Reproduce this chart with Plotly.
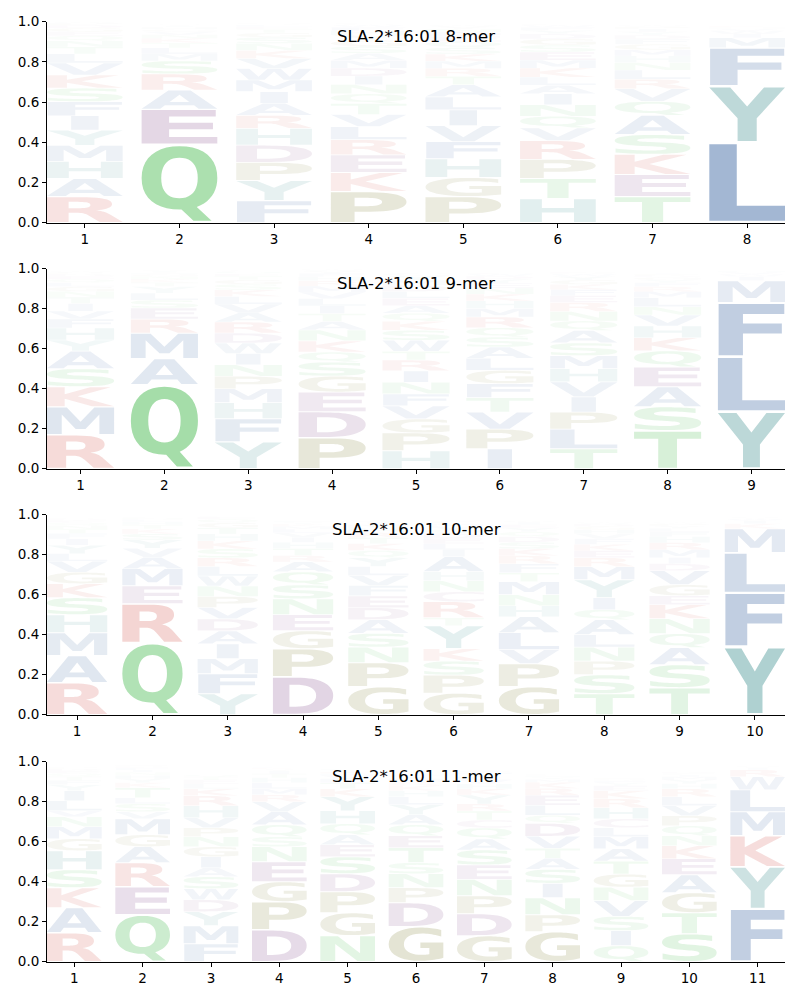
import glob, os, struct
import plotly.graph_objects as go

ALLELE = "SLA-2*16:01"
LENGTHS = [8, 9, 10, 11]

# letter probabilities per position, listed bottom -> top of each stack
mer8 = [
    {"R": .13, "A": .09, "H": .085, "M": .08, "Y": .075, "I": .072, "F": .07, "S": .068, "K": .065, "V": .06,
     "L": .045, "T": .035, "N": .03, "Q": .025, "E": .02, "G": .018, "D": .015, "P": .01, "W": .008, "C": .002},
    {"Q": .39, "E": .175, "A": .095, "R": .08, "S": .065, "M": .035, "L": .03, "T": .025, "K": .022, "N": .018,
     "V": .015, "G": .012, "H": .01, "I": .008, "Y": .006, "F": .005, "D": .004},
    {"F": .11, "Y": .10, "P": .09, "D": .086, "H": .083, "R": .065, "A": .06, "I": .058, "M": .058, "W": .057,
     "V": .05, "K": .04, "N": .035, "S": .03, "G": .022, "T": .018, "E": .013, "L": .01, "Q": .008, "C": .005},
    {"P": .155, "K": .095, "E": .088, "R": .075, "L": .065, "V": .06, "T": .055, "Q": .048, "N": .046, "I": .042,
     "D": .04, "M": .038, "A": .036, "S": .034, "G": .03, "Y": .026, "H": .022, "F": .018, "W": .012, "C": .008},
    {"P": .13, "G": .095, "H": .093, "F": .085, "V": .08, "I": .078, "L": .065, "A": .06, "T": .042, "R": .04,
     "M": .036, "K": .035, "S": .032, "Q": .03, "E": .026, "D": .022, "N": .015, "Y": .012, "W": .008, "C": .004},
    {"H": .12, "T": .10, "P": .095, "R": .094, "V": .063, "Q": .058, "N": .057, "I": .055, "A": .042, "L": .04,
     "K": .045, "M": .04, "E": .04, "S": .035, "G": .03, "D": .025, "Y": .018, "F": .015, "W": .01, "C": .006},
    {"T": .13, "E": .11, "K": .10, "S": .099, "A": .095, "Q": .07, "V": .063, "R": .047, "L": .045, "N": .038,
     "H": .033, "M": .03, "G": .028, "F": .025, "D": .02, "Y": .017, "I": .014, "P": .011, "W": .008, "C": .005},
    {"L": .40, "Y": .28, "F": .19, "M": .05, "I": .02, "W": .015, "V": .01, "H": .008, "K": .006, "C": .004},
]

mer9 = [
    {"R": .17, "M": .14, "K": .10, "S": .09, "A": .088, "Y": .055, "H": .06, "F": .045, "V": .04, "I": .038,
     "T": .032, "N": .028, "G": .024, "L": .02, "Q": .018, "E": .014, "D": .011, "P": .008, "W": .006, "C": .004},
    {"Q": .42, "A": .13, "M": .128, "R": .07, "E": .055, "S": .04, "L": .035, "Y": .033, "T": .02, "K": .016,
     "N": .014, "G": .01, "H": .009, "I": .008, "V": .006, "F": .004},
    {"Y": .135, "F": .115, "H": .08, "M": .07, "P": .062, "N": .058, "I": .056, "W": .052, "D": .05, "R": .055,
     "A": .046, "V": .044, "L": .038, "K": .033, "S": .028, "G": .022, "T": .018, "E": .013, "Q": .01, "C": .006},
    {"P": .155, "D": .13, "E": .098, "G": .08, "S": .07, "Q": .05, "K": .056, "N": .055, "A": .042, "T": .04,
     "I": .038, "L": .036, "V": .033, "M": .03, "R": .026, "H": .021, "F": .016, "Y": .012, "W": .008, "C": .005},
    {"H": .09, "P": .089, "G": .07, "V": .065, "F": .06, "N": .058, "I": .057, "R": .054, "T": .044, "W": .055,
     "S": .05, "K": .045, "Q": .04, "A": .038, "E": .037, "L": .034, "D": .03, "M": .027, "Y": .022, "C": .013},
    {"I": .10, "P": .098, "V": .085, "T": .072, "F": .07, "G": .067, "L": .06, "A": .056, "S": .05, "Q": .047,
     "R": .054, "M": .042, "H": .038, "K": .034, "N": .03, "E": .025, "Y": .02, "D": .015, "W": .01, "C": .006},
    {"T": .10, "L": .098, "P": .085, "I": .076, "V": .075, "H": .066, "M": .065, "S": .064, "A": .062, "Q": .048,
     "N": .047, "R": .045, "E": .034, "F": .03, "K": .026, "G": .022, "Y": .018, "W": .013, "D": .009, "C": .005},
    {"T": .19, "S": .12, "A": .10, "E": .099, "Q": .08, "K": .066, "H": .058, "V": .055, "N": .042, "L": .045,
     "M": .03, "R": .025, "F": .02, "Y": .015, "G": .012, "D": .009, "P": .007, "I": .005, "W": .004, "C": .003},
    {"Y": .285, "L": .275, "F": .27, "M": .11, "I": .02, "W": .012, "V": .01, "H": .007, "K": .004, "C": .003},
]

mer10 = [
    {"R": .16, "A": .135, "M": .115, "H": .09, "S": .085, "K": .07, "G": .057, "V": .055, "L": .038, "Y": .042,
     "I": .032, "F": .027, "T": .022, "N": .018, "Q": .014, "E": .011, "D": .008, "P": .006, "W": .004, "C": .003},
    {"Q": .36, "R": .195, "E": .09, "M": .085, "A": .057, "V": .045, "Y": .042, "S": .03, "K": .025, "T": .02,
     "H": .015, "L": .012, "N": .008, "F": .006, "G": .004, "I": .003, "D": .002},
    {"Y": .105, "F": .10, "M": .075, "I": .074, "A": .065, "D": .06, "V": .057, "P": .055, "N": .052, "W": .05,
     "L": .048, "R": .043, "S": .045, "K": .04, "H": .035, "T": .03, "G": .025, "Q": .018, "E": .012, "C": .006},
    {"D": .19, "P": .14, "G": .09, "E": .08, "N": .079, "S": .07, "Q": .065, "A": .05, "R": .032, "T": .035,
     "H": .03, "I": .026, "V": .022, "L": .018, "M": .014, "K": .012, "Y": .009, "F": .007, "W": .004, "C": .003},
    {"G": .14, "P": .12, "N": .078, "S": .069, "A": .068, "D": .06, "E": .059, "F": .052, "V": .05, "L": .045,
     "Y": .044, "Q": .036, "K": .034, "T": .03, "R": .026, "H": .022, "M": .017, "I": .013, "W": .009, "C": .005},
    {"G": .108, "P": .09, "S": .07, "K": .062, "Y": .115, "T": .04, "R": .08, "C": .05, "N": .055, "H": .045,
     "A": .075, "I": .035, "L": .03, "E": .027, "D": .024, "Q": .02, "V": .016, "M": .013, "F": .01, "W": .006},
    {"G": .14, "P": .115, "V": .07, "L": .085, "A": .08, "H": .055, "N": .055, "M": .065, "T": .045, "F": .045,
     "R": .04, "K": .035, "S": .032, "D": .028, "Q": .024, "Y": .02, "E": .016, "I": .012, "W": .008, "C": .005},
    {"T": .105, "S": .095, "P": .068, "N": .07, "L": .062, "A": .075, "Q": .05, "I": .06, "Y": .09, "M": .065,
     "R": .045, "E": .035, "K": .032, "F": .028, "V": .025, "H": .02, "G": .016, "D": .012, "W": .008, "C": .005},
    {"T": .135, "S": .115, "A": .085, "Q": .07, "N": .075, "K": .07, "E": .045, "G": .055, "V": .07, "D": .035,
     "I": .03, "M": .04, "R": .035, "H": .03, "F": .025, "L": .016, "Y": .013, "P": .01, "W": .007, "C": .004},
    {"Y": .34, "F": .27, "L": .20, "M": .12, "K": .025, "I": .015, "W": .01, "V": .008, "H": .004, "C": .003},
]

mer11 = [
    {"R": .145, "A": .125, "K": .10, "S": .09, "H": .095, "G": .06, "M": .06, "N": .05, "V": .03, "L": .05,
     "I": .05, "Y": .03, "F": .022, "T": .02, "Q": .015, "E": .012, "D": .01, "P": .008, "W": .005, "C": .003},
    {"Q": .235, "E": .14, "R": .12, "A": .08, "G": .06, "M": .08, "V": .035, "S": .04, "L": .03, "T": .05,
     "K": .025, "Y": .02, "H": .018, "N": .014, "I": .012, "F": .01, "D": .008, "P": .006, "W": .004, "C": .003},
    {"F": .09, "M": .09, "Y": .07, "D": .06, "W": .055, "S": .06, "A": .045, "I": .055, "G": .05, "N": .05,
     "P": .045, "V": .05, "H": .06, "R": .05, "K": .035, "L": .025, "E": .02, "T": .015, "Q": .01, "C": .005},
    {"D": .16, "P": .14, "G": .10, "E": .10, "N": .075, "S": .05, "Q": .06, "A": .065, "V": .05, "R": .035,
     "M": .03, "L": .03, "H": .025, "T": .02, "I": .015, "Y": .008, "K": .006, "F": .005, "W": .003, "C": .002},
    {"N": .13, "G": .115, "P": .105, "D": .09, "S": .085, "E": .06, "A": .05, "Q": .055, "H": .065, "Y": .07,
     "K": .04, "T": .03, "L": .02, "V": .015, "M": .01, "R": .01, "I": .008, "F": .006, "W": .004, "C": .003},
    {"G": .175, "D": .12, "P": .075, "N": .07, "S": .055, "T": .075, "E": .06, "Q": .055, "A": .05, "Y": .05,
     "L": .04, "H": .03, "K": .025, "R": .02, "M": .015, "I": .01, "F": .008, "V": .006, "W": .004, "C": .003},
    {"G": .13, "D": .11, "P": .09, "N": .082, "E": .072, "S": .075, "A": .055, "Q": .055, "C": .04, "T": .045,
     "R": .035, "Y": .045, "K": .03, "H": .025, "V": .02, "L": .016, "I": .012, "M": .01, "F": .008, "W": .005},
    {"G": .15, "P": .085, "N": .085, "I": .072, "S": .07, "A": .055, "T": .05, "V": .06, "D": .065, "Q": .04,
     "L": .05, "E": .05, "R": .035, "K": .03, "M": .015, "Y": .01, "H": .008, "F": .006, "W": .004, "C": .003},
    {"Q": .08, "I": .075, "S": .072, "V": .078, "N": .068, "G": .065, "T": .065, "A": .062, "M": .06, "L": .045,
     "C": .045, "H": .055, "R": .045, "K": .04, "E": .025, "Y": .015, "F": .01, "D": .008, "P": .006, "W": .004},
    {"S": .14, "T": .105, "G": .10, "A": .09, "E": .08, "K": .065, "N": .05, "Q": .05, "P": .05, "V": .05,
     "L": .045, "R": .04, "H": .025, "Y": .02, "M": .015, "I": .01, "F": .008, "D": .006, "W": .004, "C": .003},
    {"F": .265, "Y": .21, "K": .155, "M": .12, "L": .11, "W": .065, "R": .035, "I": .01, "V": .008, "H": .005},
]

LOGOS = [mer8, mer9, mer10, mer11]

# base colours by residue group (alpha = probability, as in a faded probability logo)
GROUP_COLORS = {
    "AFILMVW": (25, 75, 145),
    "NQST": (40, 175, 50),
    "KR": (200, 40, 30),
    "DE": (100, 30, 110),
    "GP": (100, 100, 10),
    "HY": (20, 120, 120),
    "C": (120, 50, 120),
}
COLOR = {c: rgb for grp, rgb in GROUP_COLORS.items() for c in grp}

GLYPH_WIDTH = 0.8
VPAD = 0.05


# ---------------- minimal TrueType outline reader ----------------
class TTF:
    def __init__(self, path):
        d = open(path, "rb").read()
        self.d = d
        n = struct.unpack(">H", d[4:6])[0]
        self.t = {}
        for i in range(n):
            tag, cs, off, ln = struct.unpack(">4sIII", d[12 + 16 * i:28 + 16 * i])
            self.t[tag.decode("latin1")] = (off, ln)
        head = self.t["head"][0]
        self.locfmt = struct.unpack(">h", d[head + 50:head + 52])[0]
        maxp = self.t["maxp"][0]
        ng = struct.unpack(">H", d[maxp + 4:maxp + 6])[0]
        lo = self.t["loca"][0]
        if self.locfmt == 0:
            self.loca = [2 * v for v in struct.unpack(">%dH" % (ng + 1), d[lo:lo + 2 * (ng + 1)])]
        else:
            self.loca = list(struct.unpack(">%dI" % (ng + 1), d[lo:lo + 4 * (ng + 1)]))
        self.glyf = self.t["glyf"][0]
        self._setup_cmap()

    def _setup_cmap(self):
        d = self.d
        off = self.t["cmap"][0]
        n = struct.unpack(">H", d[off + 2:off + 4])[0]
        sub = None
        for i in range(n):
            pid, eid, so = struct.unpack(">HHI", d[off + 4 + 8 * i:off + 12 + 8 * i])
            fmt = struct.unpack(">H", d[off + so:off + so + 2])[0]
            if fmt == 4 and ((pid == 3 and eid == 1) or pid == 0):
                sub = off + so
                break
        segx2 = struct.unpack(">H", d[sub + 6:sub + 8])[0]
        seg = segx2 // 2
        self.ends = struct.unpack(">%dH" % seg, d[sub + 14:sub + 14 + segx2])
        self.starts = struct.unpack(">%dH" % seg, d[sub + 16 + segx2:sub + 16 + 2 * segx2])
        self.deltas = struct.unpack(">%dh" % seg, d[sub + 16 + 2 * segx2:sub + 16 + 3 * segx2])
        self.rpos = sub + 16 + 3 * segx2
        self.roffs = struct.unpack(">%dH" % seg, d[self.rpos:self.rpos + segx2])
        self.seg = seg

    def gid(self, ch):
        c = ord(ch)
        d = self.d
        for i in range(self.seg):
            if self.starts[i] <= c <= self.ends[i]:
                if self.roffs[i] == 0:
                    return (c + self.deltas[i]) & 0xFFFF
                a = self.rpos + 2 * i + self.roffs[i] + 2 * (c - self.starts[i])
                g = struct.unpack(">H", d[a:a + 2])[0]
                return (g + self.deltas[i]) & 0xFFFF if g else 0
        return 0

    def contours(self, g):
        d = self.d
        s = self.glyf + self.loca[g]
        e = self.glyf + self.loca[g + 1]
        if e <= s:
            return []
        nc = struct.unpack(">h", d[s:s + 2])[0]
        p = s + 10
        if nc >= 0:
            endpts = struct.unpack(">%dH" % nc, d[p:p + 2 * nc])
            p += 2 * nc
            il = struct.unpack(">H", d[p:p + 2])[0]
            p += 2 + il
            npts = endpts[-1] + 1 if nc else 0
            flags = []
            while len(flags) < npts:
                f = d[p]
                p += 1
                flags.append(f)
                if f & 8:
                    r = d[p]
                    p += 1
                    flags.extend([f] * r)
            flags = flags[:npts]
            xs, v = [], 0
            for f in flags:
                if f & 2:
                    dv = d[p]
                    p += 1
                    v += dv if f & 16 else -dv
                elif not f & 16:
                    v += struct.unpack(">h", d[p:p + 2])[0]
                    p += 2
                xs.append(v)
            ys, v = [], 0
            for f in flags:
                if f & 4:
                    dv = d[p]
                    p += 1
                    v += dv if f & 32 else -dv
                elif not f & 32:
                    v += struct.unpack(">h", d[p:p + 2])[0]
                    p += 2
                ys.append(v)
            res, st = [], 0
            for en in endpts:
                res.append([(xs[i], ys[i], bool(flags[i] & 1)) for i in range(st, en + 1)])
                st = en + 1
            return res
        res = []
        more = True
        while more:
            flg, gi = struct.unpack(">HH", d[p:p + 4])
            p += 4
            if flg & 1:
                a1, a2 = struct.unpack(">hh", d[p:p + 4])
                p += 4
            else:
                a1, a2 = struct.unpack(">bb", d[p:p + 2])
                p += 2
            sx = sy = 1.0
            s01 = s10 = 0.0
            if flg & 8:
                sx = sy = struct.unpack(">h", d[p:p + 2])[0] / 16384
                p += 2
            elif flg & 0x40:
                sx, sy = [q / 16384 for q in struct.unpack(">hh", d[p:p + 4])]
                p += 4
            elif flg & 0x80:
                sx, s01, s10, sy = [q / 16384 for q in struct.unpack(">hhhh", d[p:p + 8])]
                p += 8
            dx, dy = (a1, a2) if flg & 2 else (0, 0)
            for c in self.contours(gi):
                res.append([(sx * x + s10 * y + dx, s01 * x + sy * y + dy, on) for x, y, on in c])
            more = bool(flg & 0x20)
        return res


def flatten(contour, steps=5):
    exp = []
    n = len(contour)
    for i in range(n):
        x, y, on = contour[i]
        px, py, pon = contour[i - 1]
        if not on and not pon:
            exp.append(((x + px) / 2, (y + py) / 2, True))
        exp.append((x, y, on))
    k = next(i for i, q in enumerate(exp) if q[2])
    exp = exp[k:] + exp[:k]
    m = len(exp)
    out = [(exp[0][0], exp[0][1])]
    i = 1
    while i <= m:
        x, y, on = exp[i % m]
        if on:
            out.append((x, y))
            i += 1
        else:
            x2, y2, _ = exp[(i + 1) % m]
            x0, y0 = out[-1]
            for s in range(1, steps + 1):
                t = s / steps
                out.append(((1 - t) ** 2 * x0 + 2 * (1 - t) * t * x + t * t * x2,
                            (1 - t) ** 2 * y0 + 2 * (1 - t) * t * y + t * t * y2))
            i += 2
    return out


FONT = None
for pat in ["/usr/share/fonts/truetype/dejavu/DejaVuSans-Bold.ttf",
            "/usr/share/fonts/**/DejaVuSans-Bold.ttf",
            "/usr/**/DejaVuSans-Bold.ttf",
            "/usr/share/fonts/**/LiberationSans-Bold.ttf"]:
    hits = glob.glob(pat, recursive=True)
    if hits:
        try:
            FONT = TTF(hits[0])
            break
        except Exception:
            FONT = None

_cache = {}


def glyph(ch):
    if ch in _cache:
        return _cache[ch]
    polys = []
    if FONT is not None:
        try:
            polys = [flatten(c) for c in FONT.contours(FONT.gid(ch)) if c]
        except Exception:
            polys = []
    if not polys:
        polys = [[(0, 0), (1, 0), (1, 1), (0, 1)]]
    xs = [x for pl in polys for x, _ in pl]
    ys = [y for pl in polys for _, y in pl]
    res = (polys, (min(xs), min(ys), max(xs), max(ys)))
    _cache[ch] = res
    return res


E_WIDTH = glyph("E")[1][2] - glyph("E")[1][0]


def letter_path(ch, xc, floor, ceil):
    polys, (x0, y0, x1, y1) = glyph(ch)
    h = ceil - floor
    cw, chh = x1 - x0, y1 - y0
    hs = min(GLYPH_WIDTH / cw, GLYPH_WIDTH / E_WIDTH)
    vs = h * (1 - VPAD) / chh
    xs0 = xc - cw * hs / 2 - x0 * hs
    ys0 = floor + h * VPAD / 2 - y0 * vs
    parts = []
    for pl in polys:
        pts = ["%.4f,%.5f" % (xs0 + x * hs, ys0 + y * vs) for x, y in pl]
        parts.append("M" + "L".join(pts) + "Z")
    return "".join(parts)


# ---------------- figure ----------------
fig = go.Figure()
X_DOMAIN = [47 / 800, 785 / 800]
Y_DOMAINS = [(0.7818, 0.9861), (0.5318, 0.7351), (0.2818, 0.4851), (0.0308, 0.2340)]
TICKFONT = dict(family="DejaVu Sans", size=13.5, color="black")

shapes = []
annotations = []
for k, (n, logo) in enumerate(zip(LENGTHS, LOGOS), start=1):
    sfx = "" if k == 1 else str(k)
    xr, yr = "x" + sfx, "y" + sfx
    fig.add_trace(go.Scatter(x=[], y=[], xaxis=xr, yaxis=yr, showlegend=False, hoverinfo="skip"))
    positions = list(range(1, n + 1))
    for pos, probs in zip(positions, logo):
        floor = 0.0
        for ch, p in probs.items():
            r, g, b = COLOR[ch]
            shapes.append(dict(type="path", xref=xr, yref=yr, layer="below",
                               path=letter_path(ch, pos, floor, floor + p),
                               fillcolor="rgba(%d,%d,%d,%.3f)" % (r, g, b, p),
                               line=dict(width=0)))
            floor += p
    fig.layout["xaxis" + sfx] = dict(
        domain=X_DOMAIN, anchor=yr, range=[0.6, n + 0.4], tickmode="array", tickvals=positions,
        ticktext=[str(v) for v in positions], ticks="outside", ticklen=4, tickwidth=1, tickcolor="black",
        showline=True, linecolor="black", linewidth=1, showgrid=False, zeroline=False, tickfont=TICKFONT,
        fixedrange=True)
    yt = [0.0, 0.2, 0.4, 0.6, 0.8, 1.0]
    fig.layout["yaxis" + sfx] = dict(
        domain=list(Y_DOMAINS[k - 1]), anchor=xr, range=[0, 1], tickmode="array", tickvals=yt,
        ticktext=["%.1f" % v for v in yt], ticks="outside", ticklen=4, tickwidth=1, tickcolor="black",
        showline=True, linecolor="black", linewidth=1, showgrid=False, zeroline=False, tickfont=TICKFONT,
        fixedrange=True)
    annotations.append(dict(text="%s %d-mer" % (ALLELE, n), xref=xr + " domain", yref=yr + " domain",
                            x=0.5, y=0.925, xanchor="center", yanchor="middle", showarrow=False,
                            font=dict(family="DejaVu Sans", size=16.5, color="black")))

fig.update_layout(width=800, height=1000, margin=dict(l=0, r=0, t=0, b=0),
                  plot_bgcolor="white", paper_bgcolor="white", shapes=shapes,
                  annotations=annotations, showlegend=False,
                  font=dict(family="DejaVu Sans", color="black"))
fig.write_html("out.html")
